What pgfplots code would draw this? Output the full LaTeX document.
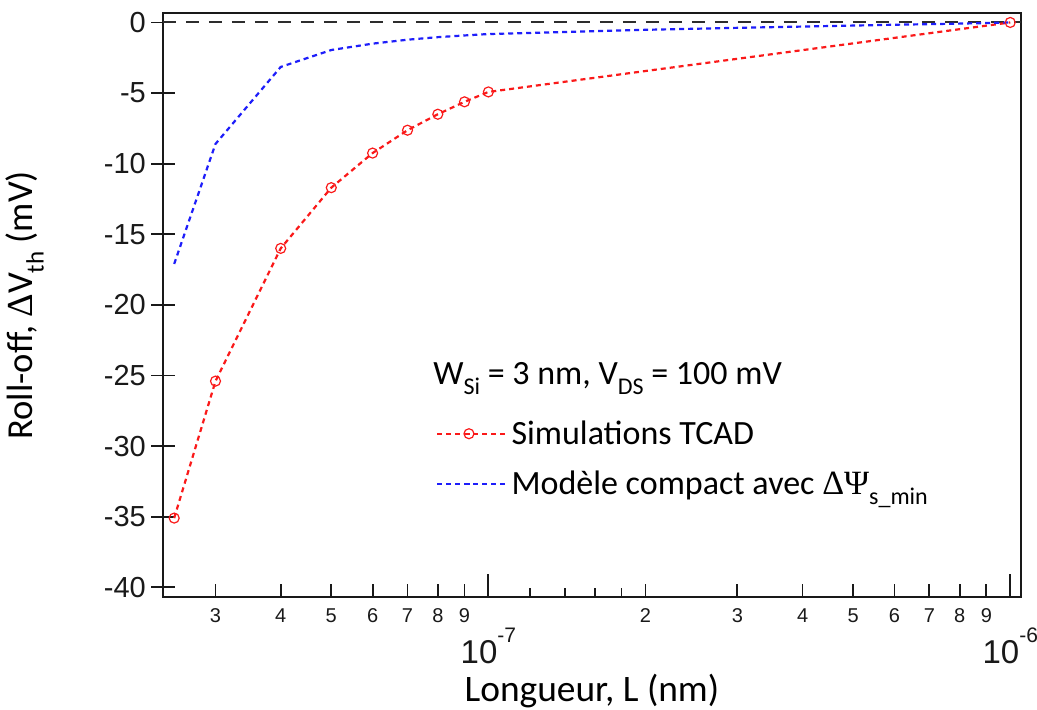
\documentclass[border=0pt]{standalone}
\usepackage{fontspec}
\setmainfont{Carlito}
\newfontfamily\arial{Liberation Sans}
\newfontfamily\tnr{Liberation Serif}
\usepackage{pgfplots}
\pgfplotsset{compat=1.18}

\definecolor{simred}{RGB}{250,25,25}
\definecolor{modblue}{RGB}{30,30,250}
\definecolor{axisgray}{RGB}{25,25,25}
\definecolor{zerogray}{RGB}{45,45,45}

% lowered subscript in text font
\newcommand{\sub}[2][12]{\raisebox{-0.3em}{\fontsize{#1}{#1}\selectfont #2}}
% decade label 10^n set in text
\newcommand{\decade}[1]{{\arial\fontsize{16.5}{18}\selectfont 10\raisebox{10.5pt}{\fontsize{10.5}{11}\selectfont #1}}}

% Threshold-voltage roll-off versus channel length
\pgfplotstableread{
L        dV
2.5e-8  -35.1
3e-8    -25.4
4e-8    -16.0
5e-8    -11.7
6e-8    -9.25
7e-8    -7.63
8e-8    -6.5
9e-8    -5.62
1e-7    -4.92
1e-6     0
}\tcad

\pgfplotstableread{
L        dV
2.5e-8  -17.1
3e-8    -8.6
4e-8    -3.15
5e-8    -1.95
6e-8    -1.5
7e-8    -1.22
8e-8    -1.04
9e-8    -0.92
1e-7    -0.82
2e-7    -0.52
3e-7    -0.38
4e-7    -0.29
5e-7    -0.22
6e-7    -0.16
7e-7    -0.12
8e-7    -0.08
9e-7    -0.04
1e-6     0
}\compact

\begin{document}
\begin{tikzpicture}
\useasboundingbox (-81.5pt,-56.35pt) rectangle (437pt,298.65pt);
\begin{axis}[
  at={(0pt,0pt)}, anchor=south west,
  scale only axis, width=429pt, height=292pt,
  xmode=log, log basis x=10,
  xmin=2.379e-8, xmax=1.0484e-6,
  ymin=-40.71, ymax=0.65,
  axis line style={line width=1pt, axisgray},
  every tick/.style={line width=0.9pt, axisgray},
  tick pos=left,
  xtick align=inside, ytick align=center,
  major tick length=11.75pt, minor tick length=4.5pt,
  xtick={1e-7,1e-6},
  xticklabels={\decade{-7},\decade{-6}},
  every x tick label/.style={anchor=north, inner sep=0pt, yshift=-15pt, text=axisgray},
  minor xtick={1.2e-7,1.4e-7,1.6e-7,1.8e-7},
  extra x ticks={3e-8,4e-8,5e-8,6e-8,7e-8,8e-8,9e-8,2e-7,3e-7,4e-7,5e-7,6e-7,7e-7,8e-7,9e-7},
  extra x tick labels={3,4,5,6,7,8,9,2,3,4,5,6,7,8,9},
  extra x tick style={major tick length=6.5pt,
    every x tick label/.style={anchor=north, inner sep=0pt, yshift=-5.5pt, text=axisgray,
      font=\arial\fontsize{10}{11}\selectfont}},
  ytick={-40,-35,-30,-25,-20,-15,-10,-5,0},
  yticklabels={-40,-35,-30,-25,-20,-15,-10,-5,0},
  yticklabel style={font=\arial\fontsize{14.5}{16}\selectfont, anchor=east, inner sep=0pt,
    xshift=-2.5pt, text=axisgray},
  xlabel={Longueur, L (nm)},
  xlabel style={at={(axis description cs:0.5,-0.179)}, anchor=base, inner sep=0pt,
    font=\fontsize{18.7}{21}\selectfont},
  ylabel={Roll-off, {\tnr Δ}V\sub[12.5]{th} (mV)},
  ylabel style={at={(axis description cs:-0.161,0.5)}, anchor=center,
    font=\fontsize{18.3}{21}\selectfont},
  legend cell align=left,
  legend image code/.code={%
    \path (0pt,0pt) -- (34.5pt,0pt);
    \draw[mark repeat=2,mark phase=2,#1] plot coordinates {(0pt,0pt) (15.75pt,0pt) (31.5pt,0pt)};},
  legend style={at={(axis description cs:0.3182,0.3104)}, anchor=north west,
    draw=none, fill=none, inner sep=0pt, row sep=8pt,
    font=\fontsize{17}{20}\selectfont},
]
\addplot[zerogray, line width=1pt, dash pattern=on 6.5pt off 5pt, forget plot]
  coordinates {(2.379e-8,0) (1.0484e-6,0)};
\addplot[simred, line width=1.1pt, dash pattern=on 2.5pt off 2pt,
  mark=o, mark size=2.5pt, mark options={solid, line width=0.6pt}]
  table[x=L, y=dV] {\tcad};
\addlegendentry{Simulations TCAD}
\addplot[modblue, line width=1.1pt, dash pattern=on 2.5pt off 2pt]
  table[x=L, y=dV] {\compact};
\addlegendentry{Modèle compact avec {\tnr ΔΨ}\sub{s\_min}}
\node[anchor=base west, inner sep=0pt, font=\fontsize{17}{20}\selectfont]
  at (axis description cs:0.3147,0.3647) {W\sub{Si} = 3 nm, V\sub{DS} = 100 mV};
\end{axis}
\end{tikzpicture}
\end{document}
